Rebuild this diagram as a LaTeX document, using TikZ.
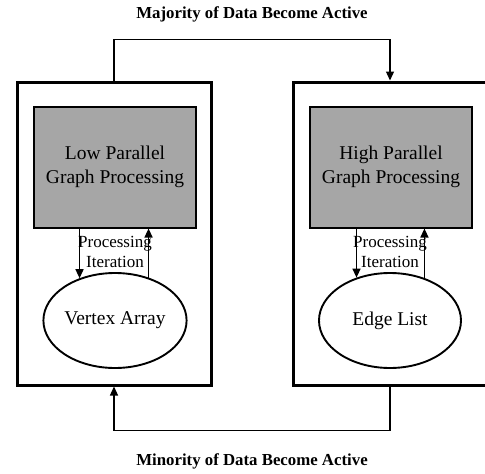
\documentclass[tikz,border=0pt]{standalone}
\usepackage{fontspec}
\setmainfont{Liberation Serif}
\usetikzlibrary{shapes.geometric,arrows.meta}
\definecolor{graybg}{HTML}{A6A6A6}
\begin{document}
\begin{tikzpicture}[x=1pt,y=-1pt,
  outerbox/.style={draw,line width=3pt,minimum width=194pt,minimum height=303pt,inner sep=0pt},
  graybox/.style={draw,line width=2pt,fill=graybg,minimum width=162pt,minimum height=121pt,inner sep=0pt,align=center,font=\fontsize{19.5}{24.5}\selectfont},
  ellnode/.style={draw,ellipse,line width=1.9pt,minimum width=142pt,minimum height=95pt,inner sep=0pt,font=\fontsize{19.5}{24}\selectfont},
  conn/.style={line width=1.3pt,-{Triangle[length=9pt,width=8pt]}},
  smalltxt/.style={align=center,font=\fontsize{17}{19.5}\selectfont,inner sep=0pt},
  title/.style={font=\bfseries\fontsize{16.8}{19}\selectfont,inner sep=0pt}
]
\useasboundingbox (0,0) rectangle (485,474);
\clip (0,0) rectangle (485,474);
\node[outerbox] (lb) at (114,233.5) {};
\node[outerbox] (rb) at (390,233.5) {};
\node[graybox] (lg) at (115,167) {Low Parallel\\Graph Processing};
\node[graybox] (rg) at (391,167) {High Parallel\\Graph Processing};
\node[ellnode] (le) at (115,320.5) {Vertex Array};
\node[ellnode] (re) at (390,320.5) {Edge List};
\node[smalltxt] (lt) at (115,252) {Processing\\Iteration};
\node[smalltxt] (rt) at (390,252) {Processing\\Iteration};
\draw[conn] (le.130 |- lg.south) -- (le.130);
\draw[conn] (le.52) -- (le.52 |- lg.south);
\draw[conn] (re.128 |- rg.south) -- (re.128);
\draw[conn] (re.51) -- (re.51 |- rg.south);
\draw[conn] (lb.north) -- ++(0,-41) -| (rb.north);
\draw[conn] (rb.south) -- ++(0,44) -| (lb.south);
\node[title] (tt) at (252,14) {Majority of Data Become Active};
\node[title] (bt) at (252,461) {Minority of Data Become Active};
\end{tikzpicture}
\end{document}
